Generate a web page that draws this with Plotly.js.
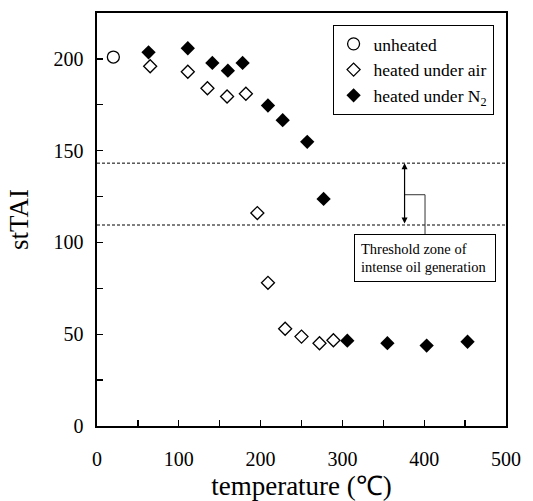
<!DOCTYPE html>
<html><head><meta charset="utf-8">
<script src="https://cdn.plot.ly/plotly-3.0.1.min.js"></script>
<style>body{margin:0;background:#fff}#c{width:533px;height:501px}</style>
</head><body><div id="c"></div>
<script>
const unheatedX = [20];
const unheatedY = [201];
const airX = [65, 111, 135, 159, 182, 196, 209, 230, 250, 272, 289];
const airY = [196, 193, 184, 179.5, 181, 116, 78, 53, 48.7, 45.1, 46.7];
const n2X = [63, 111, 141, 160, 178, 209, 227, 257, 277, 306, 355, 403, 453];
const n2Y = [203.6, 205.8, 197.8, 193.6, 197.8, 174.6, 166.6, 154.8, 123.7, 46.5, 45.1, 43.8, 45.9];
const xTickVals = [0, 50, 100, 150, 200, 250, 300, 350, 400, 450, 500];
const xTickText = ['0', ' ', '100', ' ', '200', ' ', '300', ' ', '400', ' ', '500'];
const yTickVals = [0, 25, 50, 75, 100, 125, 150, 175, 200, 225];
const yTickText = ['0', ' ', '50', ' ', '100', ' ', '150', ' ', '200', ' '];
const thresholdUpper = 143.2;
const thresholdLower = 109.5;

const serif = 'Liberation Serif';
const tickFont = {family: serif, size: 20, color: '#000'};
const traces = [
  {x: unheatedX, y: unheatedY, mode: 'markers', type: 'scatter', name: 'unheated',
   marker: {symbol: 'circle-open', size: 12, color: '#000', line: {width: 1.3, color: '#000'}}},
  {x: airX, y: airY, mode: 'markers', type: 'scatter', name: 'heated under air',
   marker: {symbol: 'diamond-open', size: 10, color: '#000', line: {width: 1.3, color: '#000'}}},
  {x: n2X, y: n2Y, mode: 'markers', type: 'scatter', name: 'heated under N<sub>2</sub>',
   marker: {symbol: 'diamond', size: 11, color: '#000', line: {width: 0}}}
];
const layout = {
  width: 533, height: 501,
  margin: {l: 97, r: 27, t: 13, b: 75},
  paper_bgcolor: '#fff', plot_bgcolor: '#fff',
  font: {family: serif, size: 20, color: '#000'},
  showlegend: true,
  legend: {x: 0.576, y: 0.971, xanchor: 'left', yanchor: 'top', bordercolor: '#000', borderwidth: 1,
    bgcolor: '#fff', font: {family: serif, size: 17.5, color: '#000'}, tracegroupgap: 0, itemwidth: 30},
  xaxis: {range: [0, 500], tickvals: xTickVals, ticktext: xTickText, ticks: 'inside', ticklen: 6, tickwidth: 1.3,
    tickcolor: '#000', showline: true, linecolor: '#000', linewidth: 1.6, mirror: true,
    showgrid: false, zeroline: false, ticklabelstandoff: 14, tickfont: tickFont,
    title: {text: 'temperature (℃)', font: {family: serif, size: 27, color: '#000'}, standoff: 7}},
  yaxis: {range: [0, 225], tickvals: yTickVals, ticktext: yTickText, ticks: 'inside', ticklen: 6, tickwidth: 1.3,
    tickcolor: '#000', showline: true, linecolor: '#000', linewidth: 1.6, mirror: true,
    showgrid: false, zeroline: false, ticklabelstandoff: 8, tickfont: tickFont,
    title: {text: 'stTAI', font: {family: serif, size: 27, color: '#000'}, standoff: 17}},
  shapes: [
    {type: 'line', xref: 'paper', x0: 0, x1: 1, yref: 'y', y0: thresholdUpper, y1: thresholdUpper,
     line: {color: '#000', width: 1, dash: '3px,2px'}},
    {type: 'line', xref: 'paper', x0: 0, x1: 1, yref: 'y', y0: thresholdLower, y1: thresholdLower,
     line: {color: '#000', width: 1, dash: '3px,2px'}},
    {type: 'line', xref: 'x', yref: 'y', x0: 376, x1: 401, y0: 126, y1: 126, line: {color: '#333', width: 1}},
    {type: 'line', xref: 'x', yref: 'y', x0: 401, x1: 401, y0: 126, y1: 104, line: {color: '#333', width: 1}}
  ],
  annotations: [
    {x: 376, y: thresholdUpper, ax: 376, ay: thresholdLower, xref: 'x', yref: 'y', axref: 'x', ayref: 'y',
     text: '', showarrow: true, arrowhead: 2, arrowside: 'end+start', arrowsize: 1, arrowwidth: 1.2, arrowcolor: '#000'},
    {x: 401, y: 91.5, xref: 'x', yref: 'y', showarrow: false, align: 'left', width: 128, height: 34,
     text: 'Threshold zone of<br>intense oil generation', font: {family: serif, size: 14.5, color: '#000'},
     bordercolor: '#000', borderwidth: 1, borderpad: 6, bgcolor: '#fff'}
  ]
};
Plotly.newPlot('c', traces, layout, {displayModeBar: false, staticPlot: true});
</script></body></html>
